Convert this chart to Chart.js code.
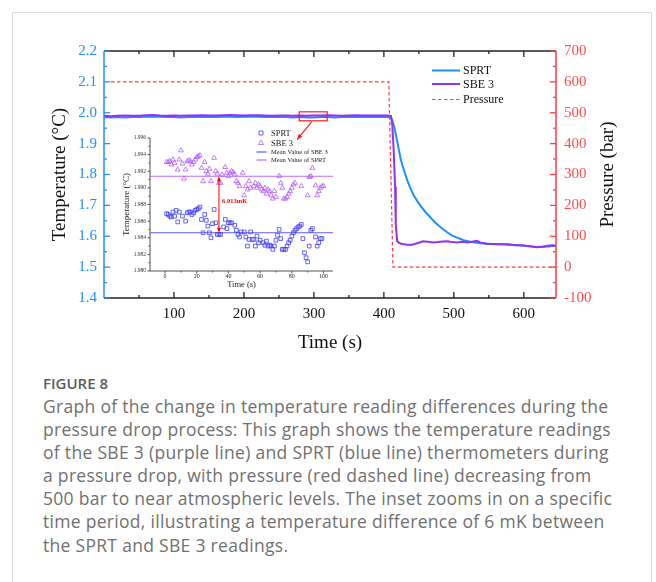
<!DOCTYPE html>
<html>
<head>
<meta charset="utf-8">
<script src="https://cdn.jsdelivr.net/npm/chart.js@4"></script>
<style>
  body { margin:0; background:#fff; width:656px; height:582px; overflow:hidden; position:relative; }
  #card { position:absolute; left:12px; top:12px; width:638px; height:600px; border:1px solid #d9d9d9; }
  #main { position:absolute; left:0; top:0; }
  #inset { position:absolute; left:110px; top:125px; }
  #figlabel { position:absolute; left:43px; top:374px; font:600 15px 'Open Sans'; color:#5c5c5c; line-height:18px; }
  #caption { position:absolute; left:43px; top:395px; font:17.5px 'Open Sans'; letter-spacing:0.3px; color:#707070; line-height:23.1px; white-space:nowrap; }
</style>
</head>
<body>
<div id="card"></div>
<canvas id="main" width="656" height="360"></canvas>
<canvas id="inset" width="235" height="172"></canvas>
<div id="figlabel">FIGURE 8</div>
<div id="caption">Graph of the change in temperature reading differences during the<br>pressure drop process: This graph shows the temperature readings<br>of the SBE 3 (purple line) and SPRT (blue line) thermometers during<br>a pressure drop, with pressure (red dashed line) decreasing from<br>500 bar to near atmospheric levels. The inset zooms in on a specific<br>time period, illustrating a temperature difference of 6 mK between<br>the SPRT and SBE 3 readings.</div>
<script>
// ---- main chart data ----
const seriesNames = ['SPRT', 'SBE 3', 'Pressure'];

const sprtTime = [0,10,20,30,40,50,60,70,80,90,100,110,120,130,140,150,160,170,180,190,200,210,220,230,240,250,260,270,280,290,300,310,320,330,340,350,360,370,380,390,400,
  405,410,412,415,418,421,424,427,430,434,438,443,448,453,460,467,473,479,485,491,497,503,509,515,522,530,539,548,558,568,578,588,598,608,618,628,636,642,646];
const sprtTemp = [1.986,1.985,1.986,1.985,1.986,1.986,1.987,1.988,1.987,1.986,1.986,1.985,1.986,1.986,1.987,1.986,1.986,1.987,1.987,1.986,1.987,1.988,1.987,1.986,1.986,1.987,1.986,1.985,1.986,1.985,1.985,1.986,1.986,1.985,1.986,1.987,1.986,1.986,1.987,1.986,1.986,
  1.986,1.985,1.975,1.952,1.919,1.885,1.850,1.826,1.805,1.778,1.755,1.731,1.713,1.697,1.677,1.660,1.645,1.633,1.622,1.612,1.603,1.597,1.592,1.586,1.583,1.580,1.577,1.576,1.575,1.574,1.573,1.571,1.570,1.568,1.565,1.566,1.567,1.569,1.568];

const sbeTime = [0,10,20,30,40,50,60,70,80,90,100,110,120,130,140,150,160,170,180,190,200,210,220,230,240,250,260,270,280,290,300,310,320,330,340,350,360,370,380,390,400,
  405,410,412,414,416,417,419,422,426,432,438,444,450,456,463,470,477,484,491,498,505,512,519,526,533,540,547,555,563,571,579,587,595,603,611,619,627,634,641,646];
const sbeTemp = [1.990,1.989,1.990,1.991,1.990,1.990,1.992,1.993,1.991,1.990,1.991,1.990,1.991,1.991,1.992,1.991,1.991,1.992,1.993,1.992,1.991,1.992,1.992,1.991,1.990,1.991,1.991,1.990,1.991,1.990,1.991,1.991,1.992,1.991,1.990,1.991,1.992,1.991,1.991,1.991,1.991,
  1.991,1.990,1.960,1.880,1.760,1.640,1.584,1.578,1.575,1.573,1.572,1.575,1.579,1.584,1.582,1.580,1.581,1.583,1.584,1.581,1.580,1.582,1.580,1.582,1.585,1.578,1.576,1.575,1.574,1.574,1.573,1.572,1.571,1.569,1.567,1.564,1.566,1.569,1.571,1.569];

const presTime = [10, 407, 413, 646];
const presBar = [600, 600, 0, 0];

const xTicks = [100, 200, 300, 400, 500, 600];
const yTicks = [1.4, 1.5, 1.6, 1.7, 1.8, 1.9, 2.0, 2.1, 2.2];
const y2Ticks = [-100, 0, 100, 200, 300, 400, 500, 600, 700];

// zoom box around the flat part (time s, temperature)
const zoomBox = { t0: 279, t1: 319, lo: 1.974, hi: 2.003 };
const zoomArrow = { t0: 297, v0: 1.971, t1: 276, v1: 1.913 };

// ---- inset data ----
const insetNames = ['SPRT', 'SBE 3', 'Mean Value of SBE 3', 'Mean Value of SPRT'];
const insetSprtX = [1,2,3,4,5,6,7,8,9,11,13,14,15,16,17,18,19,20,21,22,23,24,25,26,27,28,29,30,31,32,33,34,35,37,38,39,40,41,42,44,45,46,47,48,50,51,52,53,54,55,56,57,58,59,60,62,63,64,65,66,67,68,69,70,71,72,73,74,75,76,77,78,79,80,81,82,83,84,85,86,87,88,89,90,91,92,93,95,96,97,98,99];
const insetSprtY = [1.9869,1.9868,1.9866,1.9865,1.9871,1.9866,1.9873,1.9859,1.9871,1.9866,1.9860,1.9870,1.9871,1.9871,1.9868,1.9870,1.9873,1.9874,1.9875,1.9877,1.9862,1.9846,1.9868,1.9861,1.9854,1.9846,1.9840,1.9857,1.9874,1.9858,1.9844,1.9844,1.9844,1.9853,1.9862,1.9851,1.9858,1.9858,1.9858,1.9855,1.9849,1.9844,1.9841,1.9847,1.9847,1.9841,1.9830,1.9838,1.9847,1.9838,1.9838,1.9830,1.9842,1.9834,1.9837,1.9834,1.9831,1.9836,1.9830,1.9831,1.9830,1.9826,1.9830,1.9837,1.9843,1.9850,1.9839,1.9826,1.9826,1.9826,1.9830,1.9834,1.9837,1.9842,1.9846,1.9849,1.9851,1.9853,1.9854,1.9856,1.9839,1.9822,1.9816,1.9811,1.9830,1.9849,1.9851,1.9841,1.9830,1.9834,1.9839,1.9839];
const insetSbeX = [1,2,3,4,5,6,8,9,10,11,12,13,14,15,16,17,18,19,20,21,22,23,24,25,26,27,28,29,31,32,33,34,35,36,38,39,40,41,42,43,44,45,46,47,49,50,51,52,53,54,56,57,58,59,60,61,62,63,64,65,66,67,68,69,70,72,73,74,75,76,77,78,79,80,81,82,86,90,91,92,93,95,96,97,98,99,100];
const insetSbeY = [1.9931,1.9931,1.9932,1.9928,1.9934,1.9930,1.9922,1.9934,1.9945,1.9929,1.9911,1.9922,1.9932,1.9933,1.9932,1.9928,1.9931,1.9934,1.9937,1.9938,1.9939,1.9924,1.9908,1.9931,1.9920,1.9917,1.9923,1.9908,1.9936,1.9920,1.9917,1.9906,1.9906,1.9916,1.9925,1.9918,1.9914,1.9918,1.9920,1.9919,1.9916,1.9908,1.9906,1.9902,1.9918,1.9891,1.9902,1.9898,1.9908,1.9900,1.9902,1.9906,1.9900,1.9904,1.9902,1.9898,1.9896,1.9900,1.9893,1.9898,1.9896,1.9891,1.9887,1.9896,1.9889,1.9914,1.9906,1.9900,1.9887,1.9887,1.9889,1.9893,1.9896,1.9900,1.9904,1.9906,1.9902,1.9891,1.9913,1.9914,1.9924,1.9903,1.9891,1.9896,1.9900,1.9902,1.9902];
const meanUpper = 1.9914;   // purple line
const meanLower = 1.9846;   // blue line
const diffLabel = '6.013mK';
const diffAt = 34;
const insetXTicks = [0, 20, 40, 60, 80, 100];
const insetYTicks = [1.980, 1.982, 1.984, 1.986, 1.988, 1.990, 1.992, 1.994, 1.996];

// ---- styling ----
const SERIF = "'Liberation Serif', 'Times New Roman', serif";
const BLUE = '#1e8fff', PURPLE = '#9431f5', RED = '#ff3d3d';

const pts = (xs, ys) => xs.map((x, i) => ({ x: x, y: ys[i] }));
const fixTicks = arr => scale => { scale.ticks = arr.map(v => ({ value: v })); };

function seg(ctx, x0, y0, x1, y1) {
  ctx.beginPath(); ctx.moveTo(x0, y0); ctx.lineTo(x1, y1); ctx.stroke();
}
function mids(arr) {
  const out = [];
  for (let i = 0; i < arr.length - 1; i++) out.push((arr[i] + arr[i + 1]) / 2);
  return out;
}

const mainDeco = {
  id: 'mainDeco',
  afterDraw(chart) {
    const { ctx, chartArea: a } = chart;
    const { x, y, y2 } = chart.scales;
    ctx.save();
    ctx.lineWidth = 1.5;
    // frame
    ctx.strokeStyle = '#222';
    seg(ctx, a.left, a.top, a.right, a.top);
    seg(ctx, a.left, a.bottom, a.right, a.bottom);
    ctx.strokeStyle = BLUE;
    seg(ctx, a.left, a.top, a.left, a.bottom);
    ctx.strokeStyle = RED;
    seg(ctx, a.right, a.top, a.right, a.bottom);

    // inward ticks
    ctx.lineWidth = 1.3;
    ctx.strokeStyle = '#222';
    const xMinor = [50].concat(mids(xTicks));
    xTicks.forEach(v => { const p = x.getPixelForValue(v); seg(ctx, p, a.bottom, p, a.bottom - 6); seg(ctx, p, a.top, p, a.top + 6); });
    xMinor.forEach(v => { const p = x.getPixelForValue(v); seg(ctx, p, a.bottom, p, a.bottom - 3); seg(ctx, p, a.top, p, a.top + 3); });
    ctx.strokeStyle = BLUE;
    yTicks.forEach(v => { const p = y.getPixelForValue(v); seg(ctx, a.left, p, a.left + 6, p); });
    mids(yTicks).forEach(v => { const p = y.getPixelForValue(v); seg(ctx, a.left, p, a.left + 3, p); });
    ctx.strokeStyle = RED;
    y2Ticks.forEach(v => { const p = y2.getPixelForValue(v); seg(ctx, a.right, p, a.right - 6, p); });
    mids(y2Ticks).forEach(v => { const p = y2.getPixelForValue(v); seg(ctx, a.right, p, a.right - 3, p); });

    // right title (reads bottom to top)
    ctx.save();
    ctx.translate(608, (a.top + a.bottom) / 2);
    ctx.rotate(-Math.PI / 2);
    ctx.font = '19px ' + SERIF;
    ctx.fillStyle = '#111';
    ctx.textAlign = 'center';
    ctx.textBaseline = 'middle';
    ctx.fillText('Pressure (bar)', 0, 0);
    ctx.restore();

    // legend
    const ly = [70.5, 84, 99.5];
    ctx.font = '12px ' + SERIF;
    ctx.textBaseline = 'middle';
    ctx.textAlign = 'left';
    chart.data.datasets.forEach((ds, i) => {
      ctx.strokeStyle = ds.borderColor;
      ctx.lineWidth = ds.borderWidth;
      ctx.setLineDash(ds.borderDash || []);
      seg(ctx, 432, ly[i], 460, ly[i]);
      ctx.setLineDash([]);
      ctx.fillStyle = '#111';
      ctx.fillText(ds.label, 463, ly[i] + 0.5);
    });

    // zoom box and arrow
    ctx.strokeStyle = '#ff1e1e';
    ctx.lineWidth = 1.2;
    const bx0 = x.getPixelForValue(zoomBox.t0), bx1 = x.getPixelForValue(zoomBox.t1);
    const by0 = y.getPixelForValue(zoomBox.hi), by1 = y.getPixelForValue(zoomBox.lo);
    ctx.strokeRect(bx0, by0, bx1 - bx0, by1 - by0);
    const ax0 = x.getPixelForValue(zoomArrow.t0), ay0 = y.getPixelForValue(zoomArrow.v0);
    const ax1 = x.getPixelForValue(zoomArrow.t1), ay1 = y.getPixelForValue(zoomArrow.v1);
    seg(ctx, ax0, ay0, ax1, ay1);
    const ang = Math.atan2(ay1 - ay0, ax1 - ax0);
    ctx.fillStyle = '#ff1e1e';
    ctx.beginPath();
    ctx.moveTo(ax1, ay1);
    ctx.lineTo(ax1 - 6 * Math.cos(ang - 0.4), ay1 - 6 * Math.sin(ang - 0.4));
    ctx.lineTo(ax1 - 6 * Math.cos(ang + 0.4), ay1 - 6 * Math.sin(ang + 0.4));
    ctx.closePath();
    ctx.fill();
    ctx.restore();
  }
};

const mainChart = new Chart(document.getElementById('main'), {
  type: 'line',
  data: {
    datasets: [
      { label: seriesNames[0], data: pts(sprtTime, sprtTemp), borderColor: BLUE, borderWidth: 2, pointRadius: 0, yAxisID: 'y', order: 2 },
      { label: seriesNames[1], data: pts(sbeTime, sbeTemp), borderColor: PURPLE, borderWidth: 2, pointRadius: 0, yAxisID: 'y', order: 1 },
      { label: seriesNames[2], data: pts(presTime, presBar), borderColor: RED, borderWidth: 1.2, borderDash: [3.5, 2.5], pointRadius: 0, yAxisID: 'y2', order: 3 }
    ]
  },
  options: {
    responsive: false,
    animation: false,
    layout: { padding: { top: 51, left: 0, right: 0, bottom: 0 } },
    plugins: { legend: { display: false }, tooltip: { enabled: false } },
    scales: {
      x: {
        type: 'linear', position: 'bottom', min: 0, max: 646,
        grid: { display: false, drawTicks: false }, border: { display: false },
        afterBuildTicks: fixTicks(xTicks),
        ticks: { padding: 7, color: '#111', font: { family: SERIF, size: 15 } },
        title: { display: true, text: 'Time (s)', color: '#111', font: { family: SERIF, size: 19 }, padding: { top: 0, bottom: 5.6 } },
        afterFit: s => { s.height = 62; }
      },
      y: {
        type: 'linear', position: 'left', min: 1.4, max: 2.2,
        grid: { display: false, drawTicks: false }, border: { display: false },
        afterBuildTicks: fixTicks(yTicks),
        ticks: { padding: 7, color: BLUE, font: { family: SERIF, size: 15 }, callback: v => v.toFixed(1) },
        title: { display: true, text: 'Temperature (°C)', color: '#111', font: { family: SERIF, size: 19 }, padding: { top: 48.6, bottom: 0 } },
        afterFit: s => { s.width = 104; }
      },
      y2: {
        type: 'linear', position: 'right', min: -100, max: 700,
        grid: { display: false, drawTicks: false }, border: { display: false },
        afterBuildTicks: fixTicks(y2Ticks),
        ticks: { padding: 8, color: '#ff4d4d', font: { family: SERIF, size: 15 } },
        afterFit: s => { s.width = 100; }
      }
    }
  },
  plugins: [mainDeco]
});

// ---- inset ----
const SQ = '#3f3fff', TRI = '#b25cff', MLOW = '#5c5cff', MUP = '#b66cff';

const insetDeco = {
  id: 'insetDeco',
  afterDraw(chart) {
    const { ctx, chartArea: a } = chart;
    const { x, y } = chart.scales;
    ctx.save();
    ctx.strokeStyle = '#555';
    ctx.lineWidth = 1;
    seg(ctx, a.left, a.top, a.left, a.bottom);
    seg(ctx, a.left, a.bottom, a.right, a.bottom);
    insetXTicks.forEach(v => { const p = x.getPixelForValue(v); seg(ctx, p, a.bottom, p, a.bottom + 2.5); });
    mids(insetXTicks).forEach(v => { const p = x.getPixelForValue(v); seg(ctx, p, a.bottom, p, a.bottom + 1.5); });
    insetYTicks.forEach(v => { const p = y.getPixelForValue(v); seg(ctx, a.left, p, a.left - 2.5, p); });
    mids(insetYTicks).forEach(v => { const p = y.getPixelForValue(v); seg(ctx, a.left, p, a.left - 1.5, p); });

    // difference arrow
    const px = x.getPixelForValue(diffAt);
    const pTop = y.getPixelForValue(meanUpper), pBot = y.getPixelForValue(meanLower);
    ctx.strokeStyle = '#ff0000';
    ctx.fillStyle = '#ff0000';
    ctx.lineWidth = 1;
    seg(ctx, px, pTop + 2, px, pBot - 2);
    ctx.beginPath(); ctx.moveTo(px, pTop); ctx.lineTo(px - 2, pTop + 5); ctx.lineTo(px + 2, pTop + 5); ctx.closePath(); ctx.fill();
    ctx.beginPath(); ctx.moveTo(px, pBot); ctx.lineTo(px - 2, pBot - 5); ctx.lineTo(px + 2, pBot - 5); ctx.closePath(); ctx.fill();
    ctx.font = 'bold 6.5px ' + SERIF;
    ctx.textBaseline = 'middle';
    ctx.textAlign = 'left';
    ctx.fillText(diffLabel, x.getPixelForValue(diffAt + 2), y.getPixelForValue(1.9884));

    // legend
    const ds = chart.data.datasets;
    const ly = [8, 18, 27, 35];
    ds.forEach((d, i) => {
      ctx.strokeStyle = d.borderColor;
      if (i < 2) {
        ctx.lineWidth = 0.8;
        ctx.beginPath();
        if (d.pointStyle === 'rect') ctx.rect(149, ly[i] - 2, 4, 4);
        else { ctx.moveTo(151, ly[i] - 3); ctx.lineTo(148.5, ly[i] + 1.5); ctx.lineTo(153.5, ly[i] + 1.5); ctx.closePath(); }
        ctx.stroke();
        ctx.font = '8.5px ' + SERIF;
      } else {
        ctx.lineWidth = 1.2;
        seg(ctx, 146.5, ly[i], 156.5, ly[i]);
        ctx.font = '6.5px ' + SERIF;
      }
      ctx.fillStyle = '#222';
      ctx.fillText(d.label, 161, ly[i] + 0.5);
    });
    ctx.restore();
  }
};

const insetChart = new Chart(document.getElementById('inset'), {
  type: 'scatter',
  data: {
    datasets: [
      { label: insetNames[0], data: pts(insetSprtX, insetSprtY), pointStyle: 'rect', pointRadius: 2.6, borderColor: SQ, backgroundColor: 'rgba(0,0,0,0)', pointBorderWidth: 0.8 },
      { label: insetNames[1], data: pts(insetSbeX, insetSbeY), pointStyle: 'triangle', pointRadius: 2.8, borderColor: TRI, backgroundColor: 'rgba(0,0,0,0)', pointBorderWidth: 0.8 },
      { label: insetNames[2], type: 'line', data: [{ x: -9.5, y: meanLower }, { x: 106, y: meanLower }], borderColor: MLOW, borderWidth: 1.2, pointRadius: 0 },
      { label: insetNames[3], type: 'line', data: [{ x: -9.5, y: meanUpper }, { x: 106, y: meanUpper }], borderColor: MUP, borderWidth: 1.2, pointRadius: 0 }
    ]
  },
  options: {
    responsive: false,
    animation: false,
    layout: { padding: { top: 13, right: 12, left: 0, bottom: 0 } },
    plugins: { legend: { display: false }, tooltip: { enabled: false } },
    scales: {
      x: {
        type: 'linear', min: -9.5, max: 106,
        grid: { display: false, drawTicks: false }, border: { display: false },
        afterBuildTicks: fixTicks(insetXTicks),
        ticks: { padding: 1.5, color: '#222', autoSkip: false, font: { family: SERIF, size: 6 } },
        title: { display: true, text: 'Time (s)', color: '#222', font: { family: SERIF, size: 8.5 }, padding: { top: 0, bottom: 7 } },
        afterFit: s => { s.height = 26; }
      },
      y: {
        type: 'linear', min: 1.980, max: 1.996,
        grid: { display: false, drawTicks: false }, border: { display: false },
        afterBuildTicks: fixTicks(insetYTicks),
        ticks: { padding: 4, color: '#333', autoSkip: false, font: { family: SERIF, size: 5.5 }, callback: v => v.toFixed(3) },
        title: { display: true, text: 'Temperature (°C)', color: '#222', font: { family: SERIF, size: 9 }, padding: { top: 11.6, bottom: 0 } },
        afterFit: s => { s.width = 40; }
      }
    }
  },
  plugins: [insetDeco]
});
</script>
</body>
</html>
